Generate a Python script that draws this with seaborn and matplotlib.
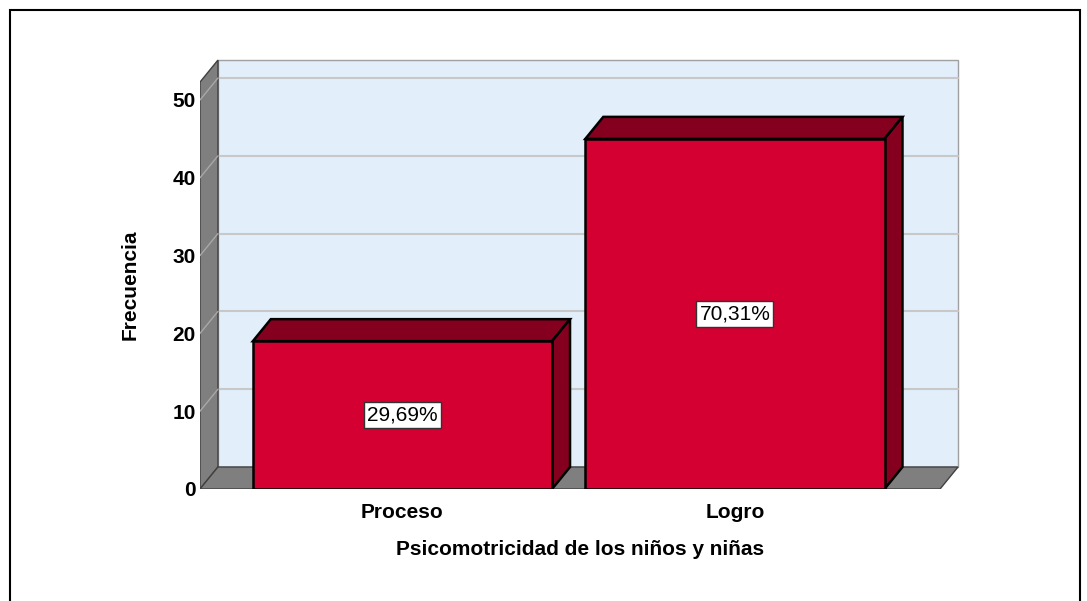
import matplotlib
matplotlib.use("Agg")
import matplotlib.pyplot as plt
from matplotlib.patches import Polygon, Rectangle
import seaborn as sns

# data
categorias = ["Proceso", "Logro"]
frecuencias = [19, 45]
porcentajes = ["29,69%", "70,31%"]
y_ticks = [0, 10, 20, 30, 40, 50]

sns.set_style("white")
plt.rcParams["font.family"] = ["Liberation Sans", "DejaVu Sans"]
plt.rcParams["text.color"] = "black"
plt.rcParams["axes.labelcolor"] = "black"
plt.rcParams["xtick.color"] = "black"
plt.rcParams["ytick.color"] = "black"

rojo = "#D50032"
rojo_osc = "#85001F"
pared = "#E2EEFA"
gris = "#7F7F7F"
rejilla = "#C8C8C8"

fig = plt.figure(figsize=(10.87, 6.01), dpi=100)
ax = fig.add_axes([200 / 1087, 112 / 601, 761 / 1087, 435.7 / 601])

# 3D depth in data units
dx, dy = 0.054, 2.83
x0, x1 = -0.609, 1.617
H = 52.3
ancho = 0.9

# back wall
ax.add_patch(Rectangle((x0 + dx, dy), x1 - x0, H, facecolor=pared,
                       edgecolor="#A0A0A0", lw=1, zorder=0))
# left wall
ax.add_patch(Polygon([(x0, 0), (x0 + dx, dy), (x0 + dx, H + dy), (x0, H)],
                     closed=True, facecolor=gris, edgecolor="#404040", lw=1, zorder=1))
# floor
ax.add_patch(Polygon([(x0, 0), (x1, 0), (x1 + dx, dy), (x0 + dx, dy)],
                     closed=True, facecolor=gris, edgecolor="#404040", lw=1, zorder=1))
# gridlines
for v in y_ticks[1:]:
    ax.plot([x0 + dx, x1 + dx], [v + dy, v + dy], color=rejilla, lw=1.5, zorder=0.5)
    ax.plot([x0, x0 + dx], [v, v + dy], color="#A8A8A8", lw=1, zorder=1.5)

# front faces
df = {"cat": categorias, "freq": frecuencias}
sns.barplot(data=df, x="cat", y="freq", color=rojo, saturation=1, width=ancho,
            edgecolor="black", linewidth=1.8, ax=ax, zorder=3)

# top and side faces
for i, h in enumerate(frecuencias):
    l, r = i - ancho / 2, i + ancho / 2
    ax.add_patch(Polygon([(l, h), (r, h), (r + dx, h + dy), (l + dx, h + dy)],
                         closed=True, facecolor=rojo_osc, edgecolor="black", lw=1.8, zorder=2.5))
    ax.add_patch(Polygon([(r, 0), (r + dx, dy), (r + dx, h + dy), (r, h)],
                         closed=True, facecolor=rojo_osc, edgecolor="black", lw=1.8, zorder=2.5))
    ax.text(i, h / 2, porcentajes[i], ha="center", va="center", fontsize=15, zorder=5,
            color="black",
            bbox=dict(boxstyle="square,pad=0.15", facecolor="white", edgecolor="#333333", lw=1))

ax.set_xlim(x0, 1.68)
ax.set_ylim(0, 56)
ax.set_yticks(y_ticks)
ax.set_yticklabels([str(v) for v in y_ticks], fontsize=15, fontweight="bold")
ax.set_xticks(range(len(categorias)))
ax.set_xticklabels(categorias, fontsize=15, fontweight="bold")
ax.tick_params(axis="x", length=0, pad=10)
ax.tick_params(axis="y", length=0, pad=3)
ax.set_xlabel("Psicomotricidad de los niños y niñas", fontsize=15, fontweight="bold", labelpad=13)
ax.set_ylabel("Frecuencia", fontsize=15, fontweight="bold")
ax.yaxis.set_label_coords(-0.079, 0.468)
for s in ax.spines.values():
    s.set_visible(False)
ax.patch.set_alpha(0)

# outer frame
fig.patches.append(Rectangle((10 / 1087, -0.02), 1070 / 1087, 1.0 - 10 / 601 + 0.02,
                             transform=fig.transFigure, fill=False, edgecolor="black", lw=1.5))

fig.savefig("out.png", dpi=100)
